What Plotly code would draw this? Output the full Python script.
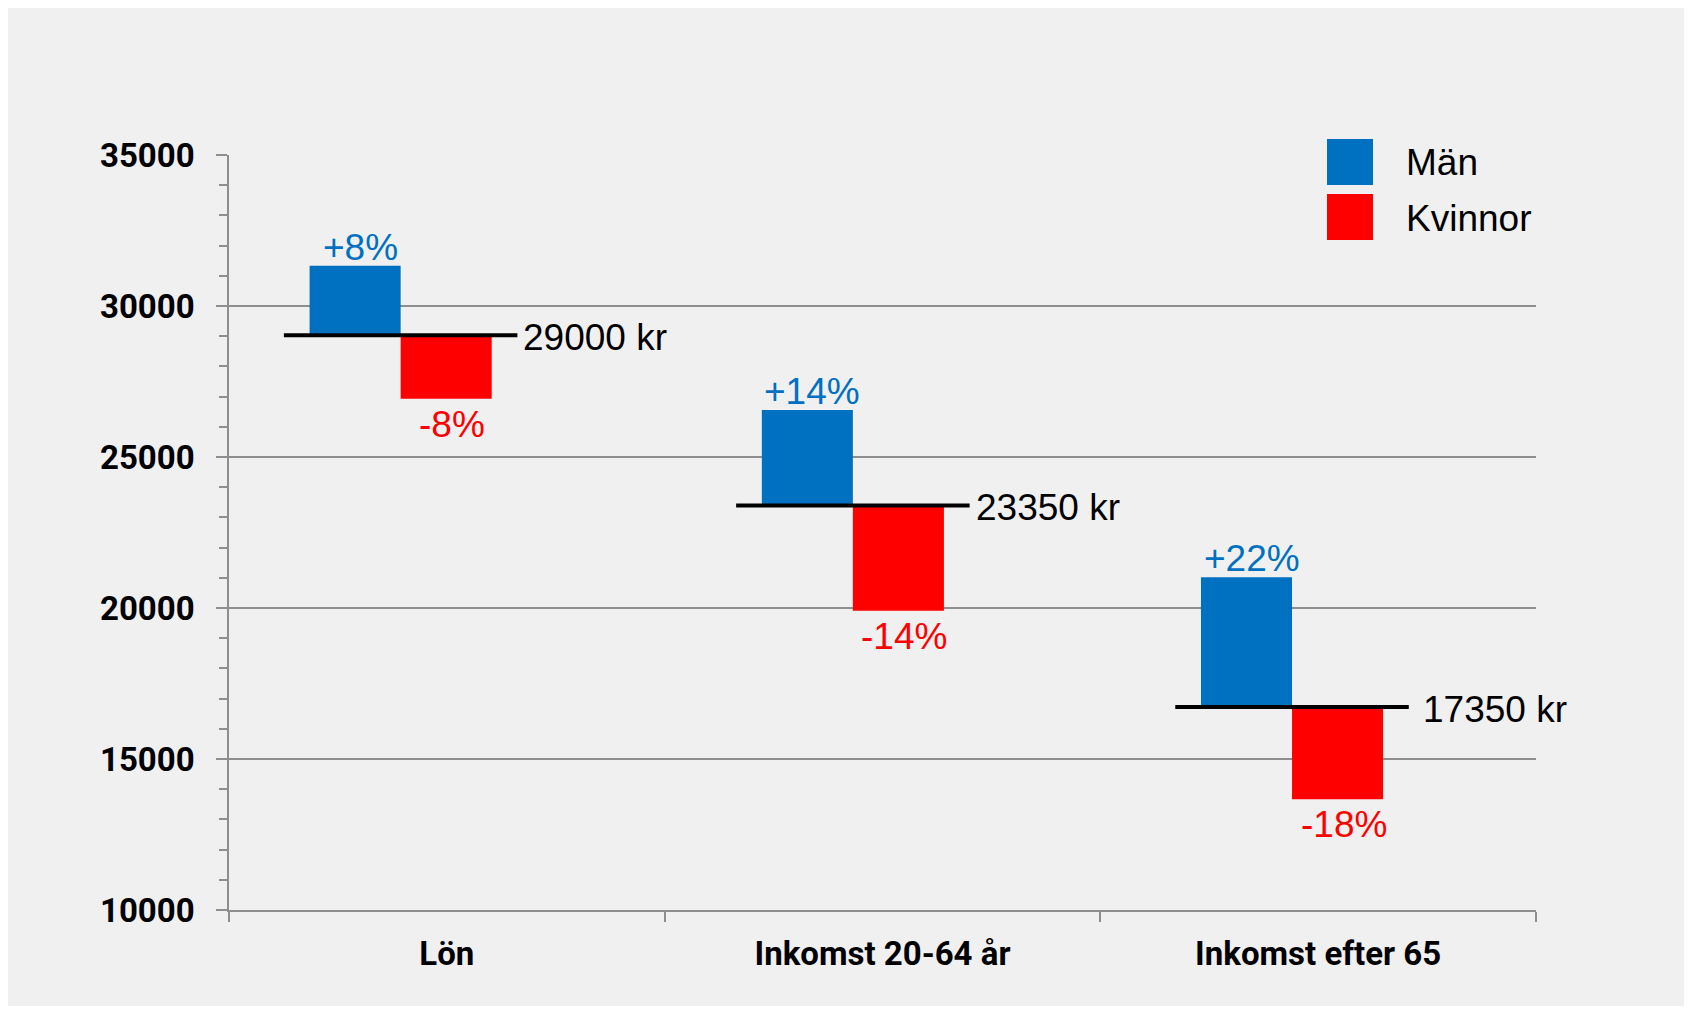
import plotly.graph_objects as go

# ---------------- data ----------------
categories = ["Lön", "Inkomst 20-64 år", "Inkomst efter 65"]
series_names = ["Män", "Kvinnor"]
average_level = [29030, 23390, 16720]        # black reference line per group
men_top = [31330, 26560, 21020]              # top of blue bar
women_bottom = [26930, 19910, 13670]         # bottom of red bar
average_labels = ["29000 kr", "23350 kr", "17350 kr"]
men_pct_labels = ["+8%", "+14%", "+22%"]
women_pct_labels = ["-8%", "-14%", "-18%"]
y_tick_values = [10000, 15000, 20000, 25000, 30000, 35000]
y_tick_labels = ["10000", "15000", "20000", "25000", "30000", "35000"]

# ---------------- styling / layout ----------------
OFF = 8                      # page body margin of the html page
W, H = 1692 - OFF, 1010 - OFF
ML, MT = 229 - OFF, 155 - OFF
MR, MB = 156, 100
PW, PH = W - ML - MR, H - MT - MB

BLUE = "#0070c0"
RED = "#ff0000"
GRID = "#8e8e8e"
BG = "#f0f0f0"

pair_shift = [-0.106, -0.068, -0.060]   # horizontal nudge of each bar pair (category units)
label_gap = [4, 4, 12]                  # px gap between line end and its label
bar_w = 0.209
line_half = 0.268

LABEL_FONT = dict(family="Roboto", size=33, color="black", weight="bold")
TEXT_FONT = "Liberation Sans, Arial, sans-serif"
TXT = 37


def px_x(sx):
    """screen x (px) -> paper x"""
    return (sx - OFF - ML) / PW


def px_y(sy):
    """screen y (px) -> paper y"""
    return (MT + PH - (sy - OFF)) / PH


fig = go.Figure()

fig.add_trace(go.Bar(
    name=series_names[0],
    x=categories,
    base=average_level,
    y=[t - a for t, a in zip(men_top, average_level)],
    width=bar_w,
    offset=[s - bar_w for s in pair_shift],
    marker=dict(color=BLUE, line=dict(width=0)),
    showlegend=False,
))

fig.add_trace(go.Bar(
    name=series_names[1],
    x=categories,
    base=average_level,
    y=[b - a for b, a in zip(women_bottom, average_level)],
    width=bar_w,
    offset=pair_shift,
    marker=dict(color=RED, line=dict(width=0)),
    showlegend=False,
))

shapes = []
annotations = []

# outer grey panel
shapes.append(dict(type="rect", xref="paper", yref="paper",
                   x0=px_x(OFF), x1=px_x(1688), y0=px_y(1006), y1=px_y(OFF),
                   fillcolor=BG, line=dict(width=0), layer="below"))

for i in range(len(categories)):
    c = i + pair_shift[i]
    # average line + label
    shapes.append(dict(type="line", xref="x", yref="y",
                       x0=c - line_half, x1=c + line_half,
                       y0=average_level[i], y1=average_level[i],
                       line=dict(color="black", width=4), layer="above"))
    annotations.append(dict(xref="x", yref="y", x=c + line_half, y=average_level[i],
                            text=average_labels[i], showarrow=False,
                            xanchor="left", yanchor="middle",
                            xshift=label_gap[i], yshift=-2,
                            font=dict(family=TEXT_FONT, size=TXT, color="black")))
    # percentage labels
    annotations.append(dict(xref="x", yref="y", x=c - bar_w / 2, y=men_top[i],
                            text=men_pct_labels[i], showarrow=False,
                            xanchor="center", yanchor="bottom", xshift=5, yshift=-4,
                            font=dict(family=TEXT_FONT, size=TXT, color=BLUE)))
    annotations.append(dict(xref="x", yref="y", x=c + bar_w / 2, y=women_bottom[i],
                            text=women_pct_labels[i], showarrow=False,
                            xanchor="center", yanchor="top", xshift=6, yshift=-3,
                            font=dict(family=TEXT_FONT, size=TXT, color=RED)))

# legend (manual, large squares)
shapes.append(dict(type="rect", xref="paper", yref="paper",
                   x0=px_x(1285), x1=px_x(1560), y0=px_y(255), y1=px_y(125),
                   fillcolor=BG, line=dict(width=0), layer="above"))
legend_colors = [BLUE, RED]
legend_tops = [139, 194]
for name, col, top in zip(series_names, legend_colors, legend_tops):
    shapes.append(dict(type="rect", xref="paper", yref="paper",
                       x0=px_x(1327), x1=px_x(1373), y0=px_y(top + 46), y1=px_y(top),
                       fillcolor=col, line=dict(width=0), layer="above"))
    annotations.append(dict(xref="paper", yref="paper", x=px_x(1404), y=px_y(top + 24),
                            text=name, showarrow=False, xanchor="left", yanchor="middle",
                            font=dict(family=TEXT_FONT, size=TXT, color="black")))

fig.update_layout(
    width=W, height=H,
    margin=dict(l=ML, r=MR, t=MT, b=MB, autoexpand=False),
    paper_bgcolor="white",
    plot_bgcolor=BG,
    barmode="overlay",
    showlegend=False,
    shapes=shapes,
    annotations=annotations,
    template="none",
)

fig.update_xaxes(
    type="category",
    range=[-0.5, 2.5],
    tickson="boundaries",
    ticks="outside", ticklen=10, tickwidth=1.5, tickcolor=GRID,
    showgrid=False,
    showline=True, linecolor=GRID, linewidth=1.5,
    tickfont=LABEL_FONT,
    ticklabelstandoff=14,
    automargin=False,
    zeroline=False,
)

fig.update_yaxes(
    range=[10000, 35000],
    tickvals=y_tick_values, ticktext=y_tick_labels,
    ticks="outside", ticklen=11, tickwidth=1.5, tickcolor=GRID,
    minor=dict(dtick=1000, ticks="outside", ticklen=8, tickwidth=1.5,
               tickcolor=GRID, showgrid=False),
    showgrid=True, gridcolor=GRID, gridwidth=1.5,
    showline=True, linecolor=GRID, linewidth=1.5,
    tickfont=LABEL_FONT,
    ticklabelstandoff=15,
    automargin=False,
    zeroline=False,
)

fig.write_html("out.html")
